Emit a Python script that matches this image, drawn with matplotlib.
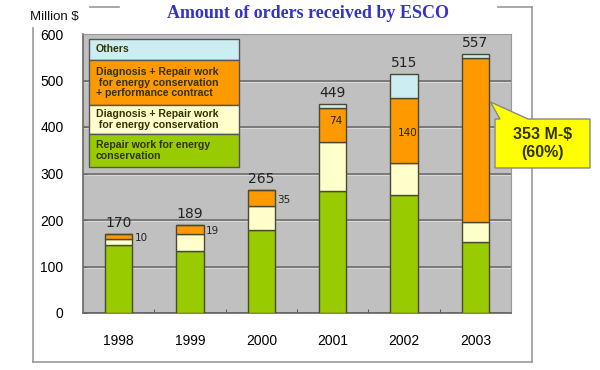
import matplotlib
matplotlib.use("Agg")
import matplotlib.pyplot as plt
from matplotlib.patches import Rectangle, Polygon
from matplotlib.lines import Line2D
import numpy as np

years = ["1998", "1999", "2000", "2001", "2002", "2003"]
repair = [146, 133, 178, 262, 254, 152]
diag_repair = [14, 37, 52, 105, 68, 44]
diag_perf = [10, 19, 35, 74, 140, 353]
others = [0, 0, 0, 8, 53, 8]
totals = [170, 189, 265, 449, 515, 557]
perf_labels = ["10", "19", "35", "74", "140", ""]
legend_labels = ["Others",
                 "Diagnosis + Repair work\n for energy conservation\n+ performance contract",
                 "Diagnosis + Repair work\n for energy conservation",
                 "Repair work for energy\nconservation"]
callout_text = "353 M-$\n(60%)"
yticks = [0, 100, 200, 300, 400, 500, 600]

C_GREEN = "#99CC00"
C_WHITE = "#FFFFCC"
C_ORANGE = "#FF9900"
C_OTHER = "#CCEEF2"
EDGE = "#4a4a30"

W, H = 600, 370
fig = plt.figure(figsize=(W/100, H/100), dpi=100)
fig.patch.set_facecolor("white")

def fx(px):
    return px / W

def fy(py):
    return 1 - py / H

ax_l, ax_r, ax_t, ax_b = 83, 511, 34, 313
ax = fig.add_axes([fx(ax_l), fy(ax_b), (ax_r - ax_l)/W, (ax_b - ax_t)/H])
ax.set_facecolor("#C0C0C0")
ax.set_xlim(-0.5, 5.5)
ax.set_ylim(0, 600)

x = np.arange(len(years))
bw = 0.38
ax.set_axisbelow(True)
ax.yaxis.grid(True, color="#6e6e6e", lw=1.2)
for yv in yticks[1:-1]:
    ax.axhline(yv - 3, color="#d8d8d8", lw=0.8, zorder=0.5)

b1 = np.array(repair)
b2 = b1 + np.array(diag_repair)
b3 = b2 + np.array(diag_perf)
ax.bar(x, repair, bw, color=C_GREEN, edgecolor=EDGE, lw=1, zorder=3)
ax.bar(x, diag_repair, bw, bottom=b1, color=C_WHITE, edgecolor=EDGE, lw=1, zorder=3)
ax.bar(x, diag_perf, bw, bottom=b2, color=C_ORANGE, edgecolor=EDGE, lw=1, zorder=3)
ax.bar(x, others, bw, bottom=b3, color=C_OTHER, edgecolor=EDGE, lw=1, zorder=3)

for i, t in enumerate(totals):
    ax.text(x[i], t + 8, str(t), ha="center", va="bottom", fontsize=10,
            color="#222222", family="DejaVu Sans", zorder=4)

for i, lab in enumerate(perf_labels):
    if not lab:
        continue
    mid = b2[i] + diag_perf[i] / 2
    if diag_perf[i] < 50:
        ax.text(x[i] + bw/2 + 0.03, mid - 4, lab, ha="left", va="center",
                fontsize=7.5, color="#222222", zorder=4)
    else:
        ax.text(x[i] + 0.05, mid + (8 if i == 3 else -5), lab, ha="center",
                va="center", fontsize=7.5, color="#222222", zorder=4)

ax.set_yticks(yticks)
ax.set_yticklabels([str(v) for v in yticks], fontsize=10, family="Liberation Sans")
ax.set_xticks(x)
ax.set_xticklabels(years, fontsize=10, family="Liberation Sans")
ax.tick_params(axis="x", length=0, pad=15)
ax.tick_params(axis="y", length=3, direction="in", pad=14, color="#666666")
ax.set_xticks(np.arange(0.5, 5.5, 1), minor=True)
ax.tick_params(axis="x", which="minor", length=3, direction="in", color="#444444")
for s in ["top", "right"]:
    ax.spines[s].set_color("#999999")
for s in ["left", "bottom"]:
    ax.spines[s].set_color("#666666")
    ax.spines[s].set_linewidth(1.2)

# legend box
leg_rows = [(39, 60, C_OTHER), (60, 105, C_ORANGE), (105, 134, C_WHITE), (134, 167, C_GREEN)]
for (top, bot, col), lab in zip(leg_rows, legend_labels):
    fig.patches.append(Rectangle((fx(89), fy(bot)), (239 - 89)/W, (bot - top)/H,
                                 transform=fig.transFigure, facecolor=col,
                                 edgecolor="#555555", lw=1, zorder=5))
    fig.text(fx(96), fy((top + bot)/2), lab, ha="left", va="center",
             fontsize=7.6, fontweight="bold", color="#333300",
             family="Liberation Sans", linespacing=1.1, zorder=6)

# frame
frame_col = "#999999"
for (xa, ya, xb, yb) in [(33, 28, 33, 362), (33, 362, 532, 362), (532, 7, 532, 362),
                         (90, 7, 119, 7), (498, 7, 532, 7)]:
    fig.lines.append(Line2D([fx(xa), fx(xb)], [fy(ya), fy(yb)], transform=fig.transFigure,
                            color=frame_col, lw=1.2))

fig.text(fx(308), fy(14), "Amount of orders received by ESCO", ha="center", va="center",
         fontsize=13, fontweight="bold", color="#3333CC", family="Liberation Serif")
fig.text(fx(54), fy(17), "Million $", ha="center", va="center", fontsize=9.5,
         color="#111111", family="Liberation Sans")

# callout
fig.canvas.draw()
tip_disp = ax.transData.transform((x[5] + bw/2 + 0.02, 454))
tx, ty = tip_disp[0], H - tip_disp[1]
bx0, bx1, by0, by1 = 495, 590, 119, 168
pts = [(bx0, by0), (500, by0), (tx, ty), (528, by0), (bx1, by0), (bx1, by1), (bx0, by1)]
fig.patches.append(Polygon([(fx(px), fy(py)) for px, py in pts], closed=True,
                           transform=fig.transFigure, facecolor="#FFFF00",
                           edgecolor="#888888", lw=1, zorder=7))
fig.text(fx((bx0 + bx1)/2), fy((by0 + by1)/2), callout_text, ha="center", va="center",
         fontsize=11.5, fontweight="bold", color="#333300", family="Liberation Sans",
         linespacing=1.3, zorder=8)

fig.savefig("out.png", dpi=100)
